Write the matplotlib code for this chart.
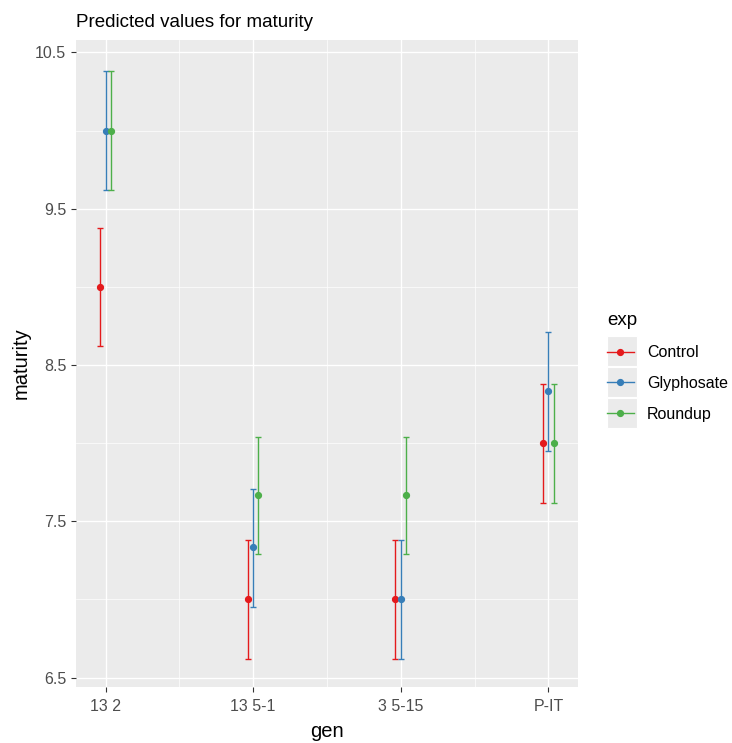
import numpy as np
import matplotlib.pyplot as plt
from matplotlib.lines import Line2D
from matplotlib.patches import Rectangle

plt.rcParams['font.family'] = ['Liberation Sans', 'DejaVu Sans']

# data
gens = ["13 2", "13 5-1", "3 5-15", "P-IT"]
groups = ["Control", "Glyphosate", "Roundup"]
colors = ["#E41A1C", "#377EB8", "#4DAF4A"]

fit = {
    "Control":    [9.0, 7.0, 7.0, 8.0],
    "Glyphosate": [10.0, 7.333, 7.0, 8.333],
    "Roundup":    [10.0, 7.667, 7.667, 8.0],
}
lower = {
    "Control":    [8.62, 6.62, 6.62, 7.62],
    "Glyphosate": [9.62, 6.95, 6.62, 7.95],
    "Roundup":    [9.62, 7.29, 7.29, 7.62],
}
upper = {
    "Control":    [9.38, 7.38, 7.38, 8.38],
    "Glyphosate": [10.38, 7.71, 7.38, 8.71],
    "Roundup":    [10.38, 8.04, 8.04, 8.38],
}

fig = plt.figure(figsize=(7.32, 7.43), dpi=100)
ax = fig.add_axes([0.1038, 0.0754, 0.6858, 0.8708])
ax.set_facecolor("#EBEBEB")
for s in ax.spines.values():
    s.set_visible(False)

x = np.arange(1, len(gens) + 1)
offsets = [-0.036, 0.0, 0.036]
for g, c, off in zip(groups, colors, offsets):
    y = np.array(fit[g])
    lo = y - np.array(lower[g])
    hi = np.array(upper[g]) - y
    ax.errorbar(x + off, y, yerr=[lo, hi], fmt='o', color=c, ms=4.2,
                elinewidth=1.0, capsize=2.5, capthick=1.0, zorder=3)

ax.set_xlim(0.8, 4.2)
ax.set_ylim(6.44, 10.58)
ax.set_xticks(x)
ax.set_xticklabels(gens)
ax.set_yticks([6.5, 7.5, 8.5, 9.5, 10.5])
ax.set_yticks([7, 8, 9, 10], minor=True)
ax.set_xticks([1.5, 2.5, 3.5], minor=True)
ax.grid(which='major', color='white', lw=1.0)
ax.grid(which='minor', color='white', lw=0.5)
ax.set_axisbelow(True)
ax.tick_params(which='major', length=3.5, color='#333333', labelcolor='#4D4D4D',
               labelsize=11.5, width=0.8)
ax.tick_params(axis='x', which='major', pad=5)
ax.tick_params(which='minor', length=0)

ax.set_xlabel("gen", fontsize=14.5, labelpad=6)
ax.set_ylabel("maturity", fontsize=14.5, labelpad=3)
ax.set_title("Predicted values for maturity", fontsize=13.5, loc='left', pad=9)

# legend
handles = [Line2D([], [], color=c, marker='o', ms=4.2, lw=1.0) for c in colors]
leg = fig.legend(handles, groups, title="exp", loc='upper left',
                 bbox_to_anchor=(0.810, 0.599), frameon=False, fontsize=11.5,
                 title_fontsize=13.5, handlelength=1.65, handletextpad=0.85,
                 labelspacing=0.99, alignment='left')
for i in range(3):
    fig.patches.append(Rectangle((607 / 732, 1 - (366 + 31 * i) / 743), 30 / 732, 30 / 743,
                                 transform=fig.transFigure, facecolor='#EBEBEB',
                                 edgecolor='white', lw=0.8, zorder=0))

fig.savefig("out.png", dpi=100)
